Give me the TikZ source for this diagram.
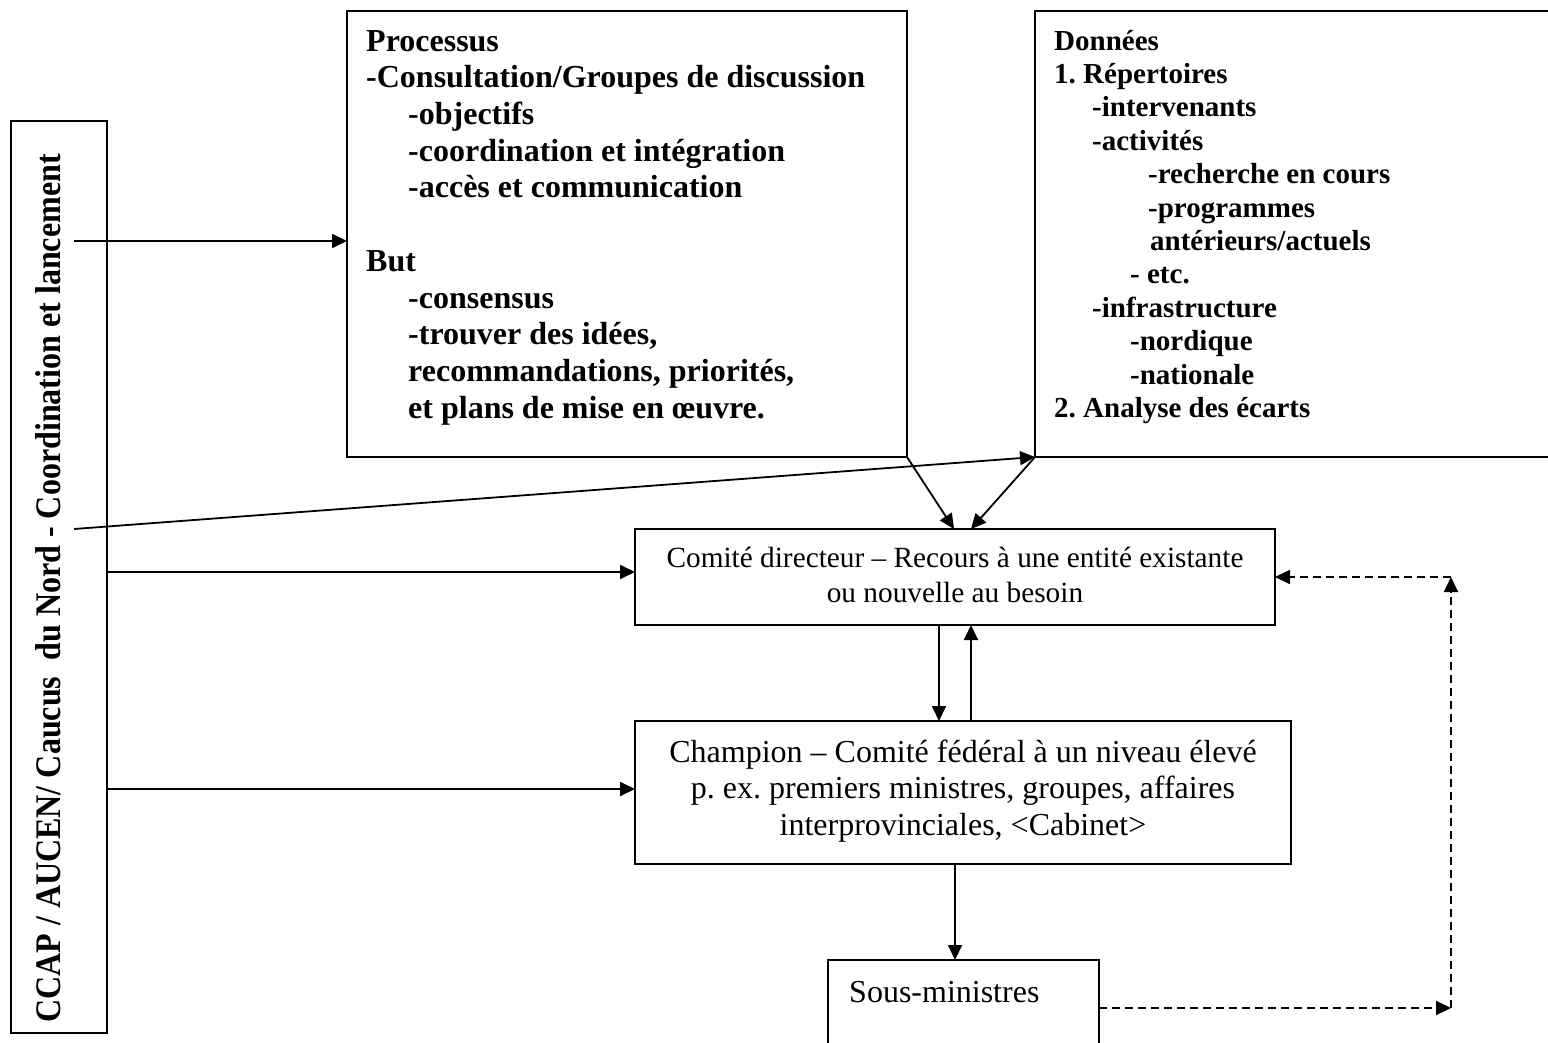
\documentclass[tikz,border=0pt]{standalone}
\usepackage{fontspec}
\setmainfont{Liberation Serif}
\usetikzlibrary{arrows.meta}
\begin{document}
\frenchspacing
\begin{tikzpicture}[x=1pt,y=-1pt,
  box/.style={draw, line width=2.8pt, inner sep=0pt, outer sep=0pt, anchor=north west},
  conn/.style={line width=1.8pt, -{Triangle[length=15pt,width=14pt]}},
  dconn/.style={conn, dash pattern=on 8pt off 5pt},
  btext/.style={font=\bfseries\fontsize{32}{36.7}\selectfont, inner sep=0pt, align=left, anchor=north west},
  dtext/.style={font=\bfseries\fontsize{29}{33.4}\selectfont, inner sep=0pt, align=left, anchor=north west},
  rtext/.style={font=\fontsize{29.3}{35}\selectfont, inner sep=0pt, align=center, anchor=north},
  ltext/.style={font=\fontsize{32}{36.5}\selectfont, inner sep=0pt, align=center, anchor=north},
]
\path[use as bounding box] (0,0) rectangle (1548,1042);
\clip (0,0) rectangle (1548,1042);

% boxes
\node[box, minimum width=96pt, minimum height=912pt] (ccap) at (11,121) {};
\node[box, minimum width=560pt, minimum height=446pt] (proc) at (347,11) {};
\node[box, minimum width=540pt, minimum height=446pt] (data) at (1035,11) {};
\node[box, minimum width=640pt, minimum height=96pt] (comite) at (635,529) {};
\node[box, minimum width=656pt, minimum height=143pt] (champ) at (635,721) {};
\node[box, minimum width=271pt, minimum height=130pt] (sous) at (828,960) {};

% texts
\node[btext] (proctxt) at (366,25.3) {\strut Processus\\
-Consultation/Groupes de discussion\\
\hspace*{42pt}-objectifs\\
\hspace*{42pt}-coordination et intégration\\
\hspace*{42pt}-accès et communication\\[36.7pt]
But\\
\hspace*{42pt}-consensus\\
\hspace*{42pt}-trouver des idées,\\
\hspace*{42pt}recommandations, priorités,\\
\hspace*{42pt}et plans de mise en œuvre.};

\node[dtext] (datatxt) at (1054,26.6) {\strut Données\\
1. Répertoires\\
\hspace*{38pt}-intervenants\\
\hspace*{38pt}-activités\\
\hspace*{94pt}-recherche en cours\\
\hspace*{94pt}-programmes\\
\hspace*{96pt}antérieurs/actuels\\
\hspace*{76pt}- etc.\\
\hspace*{38pt}-infrastructure\\
\hspace*{76pt}-nordique\\
\hspace*{76pt}-nationale\\
2. Analyse des écarts};

\node[rtext] (comtxt) at (955,542.5) {\strut Comité directeur – Recours à une entité existante\\ou nouvelle au besoin};
\node[ltext] (chtxt) at (963,736.5) {\strut Champion – Comité fédéral à un niveau élevé\\p. ex. premiers ministres, groupes, affaires\\interprovinciales, <Cabinet>};
\node[font=\fontsize{32}{36}\selectfont, inner sep=0pt, anchor=base west] (soustxt) at (849,1002) {Sous-ministres};
\node[rotate=90, inner sep=0pt, anchor=base west] (ccaptxt) at (60,1023) {\scalebox{0.89}[1]{\bfseries\fontsize{36}{40}\selectfont CCAP / AUCEN/ Caucus\hspace{0.5em}du Nord - Coordination et lancement}};

% connector ends
\coordinate (s1) at (74,241);
\coordinate (s2) at (74,529);
\coordinate (s3) at (107,572);
\coordinate (s4) at (107,789);
\coordinate (t1) at (954,529);
\coordinate (t2) at (971,529);
\coordinate (d1) at (939,625);
\coordinate (u1) at (971,721);
\coordinate (v1) at (955,864);
\coordinate (w1) at (1099,1008);
\coordinate (c1) at (1451,1008);
\coordinate (c2) at (1451,577);

\draw[conn] (s1) -- (s1 -| proc.west);
\draw[conn] (s2) -- (data.south west);
\draw[conn] (s3) -- (s3 -| comite.west);
\draw[conn] (s4) -- (s4 -| champ.west);
\draw[conn] (proc.south east) -- (t1);
\draw[conn] (data.south west) -- (t2);
\draw[conn] (comite.south -| d1) -- (champ.north -| d1);
\draw[conn] (champ.north -| u1) -- (comite.south -| u1);
\draw[conn] (champ.south -| v1) -- (sous.north -| v1);
\draw[dconn] (sous.east |- w1) -- (c1);
\draw[dconn] (c1) -- (c2);
\draw[dconn] (c2) -- (comite.east |- c2);
\end{tikzpicture}
\end{document}
